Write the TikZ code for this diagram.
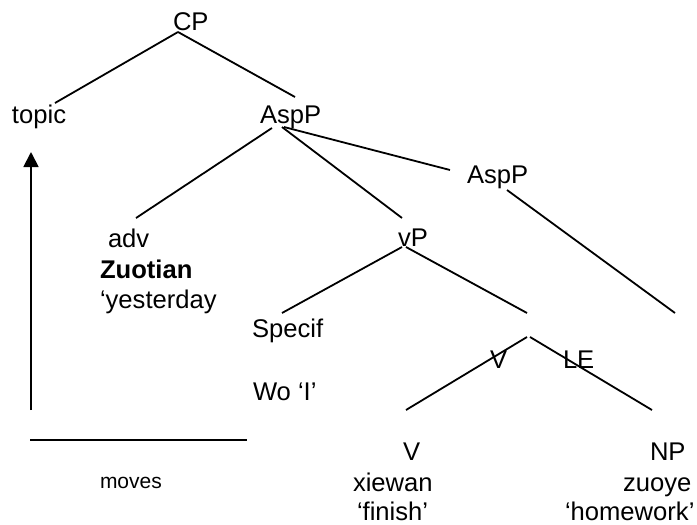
\documentclass[tikz,border=0pt]{standalone}
\usepackage{fontspec}
\setmainfont{Liberation Sans}
\usetikzlibrary{arrows.meta}
\begin{document}
\begin{tikzpicture}[x=1pt,y=-1pt,
  lbl/.style={anchor=base west,inner sep=0pt,outer sep=0pt,font=\fontsize{25.6}{30}\selectfont},
  small/.style={anchor=base west,inner sep=0pt,outer sep=0pt,font=\fontsize{21}{25}\selectfont},
  branch/.style={draw=black,line width=1.8pt},
  movearrow/.style={draw=black,line width=1.8pt,-{Triangle[width=15pt,length=15pt]}}]
\useasboundingbox (0,0) rectangle (697,525);

% labels
\node[lbl] (cp) at (173,30) {CP};
\node[lbl] (topic) at (12,123) {topic};
\node[lbl] (asp) at (260,123) {AspP};
\node[lbl] (asp2) at (467,183) {AspP};
\node[lbl] (adv) at (108,247) {adv};
\node[lbl,font=\fontsize{25.6}{30}\selectfont\bfseries] (zuotian) at (100,278) {Zuotian};
\node[lbl] (yesterday) at (100,308) {‘yesterday};
\node[lbl] (vp) at (398,246) {vP};
\node[lbl] (specif) at (252,337) {Specif};
\node[lbl] (wo) at (253,400) {Wo ‘I’};
\node[lbl] (vle-v) at (490,368) {V};
\node[lbl] (vle-le) at (563,368) {LE};
\node[lbl] (v) at (403,460) {V};
\node[lbl] (xiewan) at (353,491) {xiewan};
\node[lbl] (finish) at (357,520) {‘finish’};
\node[lbl] (np) at (650,460) {NP};
\node[lbl] (zuoye) at (623,491) {zuoye};
\node[lbl] (homework) at (565,520) {‘homework’};
\node[small] (moves) at (100,488) {moves};

% branch end points
\coordinate (cp-b) at (178,32);
\coordinate (topic-t) at (55,103);
\coordinate (asp-t) at (295,97);
\coordinate (asp-bl) at (272,128);
\coordinate (asp-bm) at (282,127);
\coordinate (asp-br) at (284,127);
\coordinate (adv-t) at (136,218);
\coordinate (vp-t) at (402,218);
\coordinate (asp2-t) at (450,170);
\coordinate (asp2-b) at (507,190);
\coordinate (asp2-end) at (675,313);
\coordinate (vp-bl) at (402,247);
\coordinate (vp-br) at (406,247);
\coordinate (specif-t) at (282,313);
\coordinate (vbar-t) at (527,313);
\coordinate (vle-tl) at (527,337);
\coordinate (vle-tr) at (530,337);
\coordinate (v-t) at (406,410);
\coordinate (np-t) at (652,410);
\coordinate (move-foot) at (31,410);
\coordinate (move-tip) at (31,152);
\coordinate (rule-l) at (30,440);
\coordinate (rule-r) at (247,440);

% tree branches
\draw[branch] (cp-b) -- (topic-t);
\draw[branch] (cp-b) -- (asp-t);
\draw[branch] (asp-bl) -- (adv-t);
\draw[branch] (asp-bm) -- (vp-t);
\draw[branch] (asp-br) -- (asp2-t);
\draw[branch] (asp2-b) -- (asp2-end);
\draw[branch] (vp-bl) -- (specif-t);
\draw[branch] (vp-br) -- (vbar-t);
\draw[branch] (vle-tl) -- (v-t);
\draw[branch] (vle-tr) -- (np-t);

% movement arrow and rule
\draw[movearrow] (move-foot) -- (move-tip);
\draw[branch] (rule-l) -- (rule-r);
\end{tikzpicture}
\end{document}
